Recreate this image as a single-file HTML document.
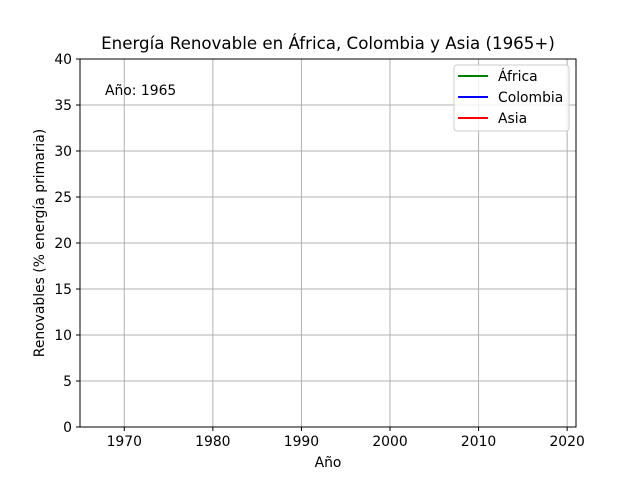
<!DOCTYPE html>
<html><head><meta charset="utf-8"><style>
body{margin:0;background:#fff;}
svg text{font-family:"DejaVu Sans","Liberation Sans",sans-serif;fill:#000;}
</style></head><body>
<svg id="chart" width="640" height="480" xmlns="http://www.w3.org/2000/svg">
<rect width="640" height="480" fill="#fff"/>
<g id="grid"></g>
<g id="series"></g>
<rect x="80" y="59" width="496" height="368" fill="none" stroke="#000" stroke-width="1"/>
<g id="xticks"></g><g id="yticks"></g>
<text x="328" y="49" font-size="16.67" text-anchor="middle">Energía Renovable en África, Colombia y Asia (1965+)</text>
<text x="328" y="467" font-size="13.9" text-anchor="middle">Año</text>
<text transform="translate(44,243) rotate(-90)" font-size="13.9" text-anchor="middle">Renovables (% energía primaria)</text>
<text x="105" y="95" font-size="13.9">Año: 1965</text>
<g>
<rect x="454" y="65" width="115" height="66" rx="3" fill="#fff" fill-opacity="0.8" stroke="#ccc"/>
<line x1="458" y1="76" x2="488" y2="76" stroke="green" stroke-width="2"/>
<text x="498" y="81" font-size="13.9">África</text>
<line x1="458" y1="97" x2="488" y2="97" stroke="blue" stroke-width="2"/>
<text x="498" y="102" font-size="13.9">Colombia</text>
<line x1="458" y1="118" x2="488" y2="118" stroke="red" stroke-width="2"/>
<text x="498" y="123" font-size="13.9">Asia</text>
</g>
</svg>
<script>
const years=[1965];
const africa=[5.5];
const colombia=[13.5];
const asia=[4.5];
const xTicks=[1970,1980,1990,2000,2010,2020];
const yTicks=[0,5,10,15,20,25,30,35,40];
const NS="http://www.w3.org/2000/svg";
const X0=80,X1=576,Y0=427,Y1=59,xmin=1965,xmax=2021,ymin=0,ymax=40;
const sx=v=>X0+(v-xmin)/(xmax-xmin)*(X1-X0);
const sy=v=>Y0-(v-ymin)/(ymax-ymin)*(Y0-Y1);
function mk(t,a,p){const e=document.createElementNS(NS,t);for(const k in a)e.setAttribute(k,a[k]);p.appendChild(e);return e;}
const g=document.getElementById('grid'),xt=document.getElementById('xticks'),yt=document.getElementById('yticks'),s=document.getElementById('series');
xTicks.forEach(v=>{const x=sx(v);
const l=mk('line',{x1:x,x2:x,y1:Y1,y2:Y0,stroke:'#b0b0b0','stroke-width':1},g);


mk('line',{x1:x,x2:x,y1:Y0,y2:Y0+4,stroke:'#000'},xt);
const t=mk('text',{x:x,y:Y0+19,'font-size':13.9,'text-anchor':'middle'},xt);t.textContent=v;

});
yTicks.forEach(v=>{const y=sy(v);
const l=mk('line',{x1:X0,x2:X1,y1:y,y2:y,stroke:'#b0b0b0','stroke-width':1},g);


mk('line',{x1:X0-4,x2:X0,y1:y,y2:y,stroke:'#000'},yt);
const t=mk('text',{x:X0-8,y:y+5,'font-size':13.9,'text-anchor':'end'},yt);t.textContent=v;

});
[[africa,'green','africa'],[colombia,'blue','colombia'],[asia,'red','asia']].forEach(([d,c,n])=>{
const p=mk('polyline',{points:years.map((y,i)=>sx(y)+','+sy(d[i])).join(' '),fill:'none',stroke:c,'stroke-width':2},s);

});
</script>
</body></html>
